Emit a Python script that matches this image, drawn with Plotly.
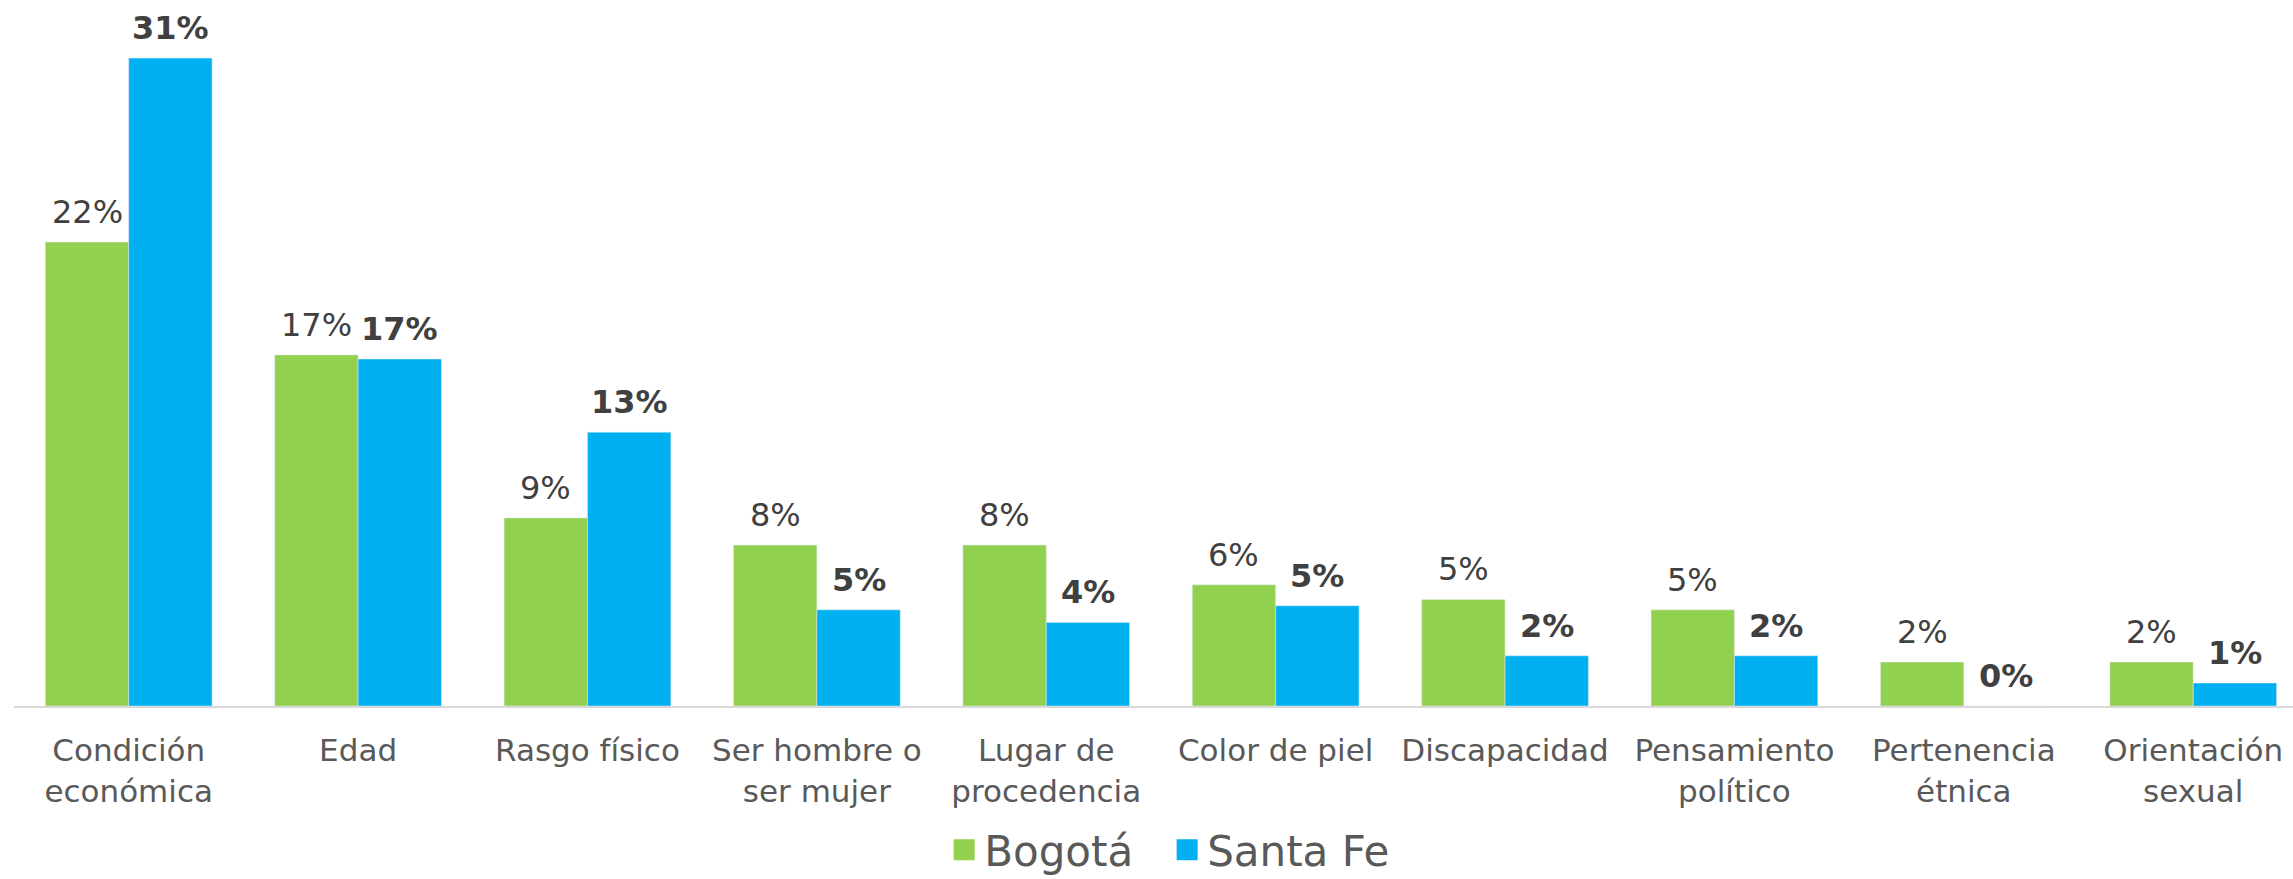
import plotly.graph_objects as go

categories = ["Condición<br>económica", "Edad", "Rasgo físico", "Ser hombre o<br>ser mujer",
              "Lugar de<br>procedencia", "Color de piel", "Discapacidad",
              "Pensamiento<br>político", "Pertenencia<br>étnica", "Orientación<br>sexual"]
bogota = [22.2, 16.8, 9.0, 7.7, 7.7, 5.8, 5.1, 4.6, 2.1, 2.1]
santa_fe = [31.0, 16.6, 13.1, 4.6, 4.0, 4.8, 2.4, 2.4, 0.0, 1.1]
series_names = ["Bogotá", "Santa Fe"]

GREEN = "#92D050"
BLUE = "#00B0F0"
FONT = "DejaVu Sans"

W, H = 2293, 879
ML, MR, MT, MB = 14, 0, 0, 173
XRANGE = [-0.5, 9.435]
BARGAP = 0.273

fig = go.Figure()
fig.add_trace(go.Bar(name=series_names[0], x=categories, y=bogota, marker_color=GREEN,
                     showlegend=False, legendgroup="b"))
fig.add_trace(go.Bar(name=series_names[1], x=categories, y=santa_fe, marker_color=BLUE,
                     showlegend=False, legendgroup="s"))
# legend keys (larger square swatches than the default bar key)
for name, color, grp in ((series_names[0], GREEN, "b"), (series_names[1], BLUE, "s")):
    fig.add_trace(go.Scatter(name=name, x=[None], y=[None], mode="markers", legendgroup=grp,
                             marker=dict(symbol="square", size=16, color=color,
                                         line=dict(width=5, color=color)),
                             hoverinfo="skip"))

# value labels above each bar (offset to the bar centre within the group)
px_per_unit = (W - ML - MR) / (XRANGE[1] - XRANGE[0])
half = (1 - BARGAP) / 4 * px_per_unit
for series, shift, bold in ((bogota, -half, False), (santa_fe, half, True)):
    for cat, v in zip(categories, series):
        label = f"{int(v + 0.5)}%"
        fig.add_annotation(
            x=cat, y=v, xref="x", yref="y", xshift=shift, yshift=9,
            text=f"<b>{label}</b>" if bold else label,
            showarrow=False, yanchor="bottom", xanchor="center",
            font=dict(family=FONT, size=32, color="#404040"),
        )

fig.update_layout(
    width=W, height=H,
    margin=dict(l=ML, r=MR, t=MT, b=MB),
    plot_bgcolor="white", paper_bgcolor="white",
    barmode="group", bargap=BARGAP, bargroupgap=0,
    font=dict(family=FONT, color="#595959"),
    legend=dict(orientation="h", xref="container", yref="container",
                x=0.509, xanchor="center", y=0.033, yanchor="middle",
                font=dict(family=FONT, size=42, color="#595959"), itemwidth=30,
                entrywidth=178),
)
fig.update_xaxes(range=XRANGE, showline=True, linecolor="#D9D9D9", linewidth=2,
                 ticks="", tickfont=dict(family=FONT, size=31, color="#595959"),
                 ticklabelstandoff=16, showgrid=False, automargin=False)
fig.update_yaxes(range=[0, 33.78], visible=False, showgrid=False, zeroline=False,
                 automargin=False)

# remove the default page margin so the figure fills the window exactly
fig.write_html("out.html", config={"displayModeBar": False},
               post_script="document.body.style.margin='0';")
